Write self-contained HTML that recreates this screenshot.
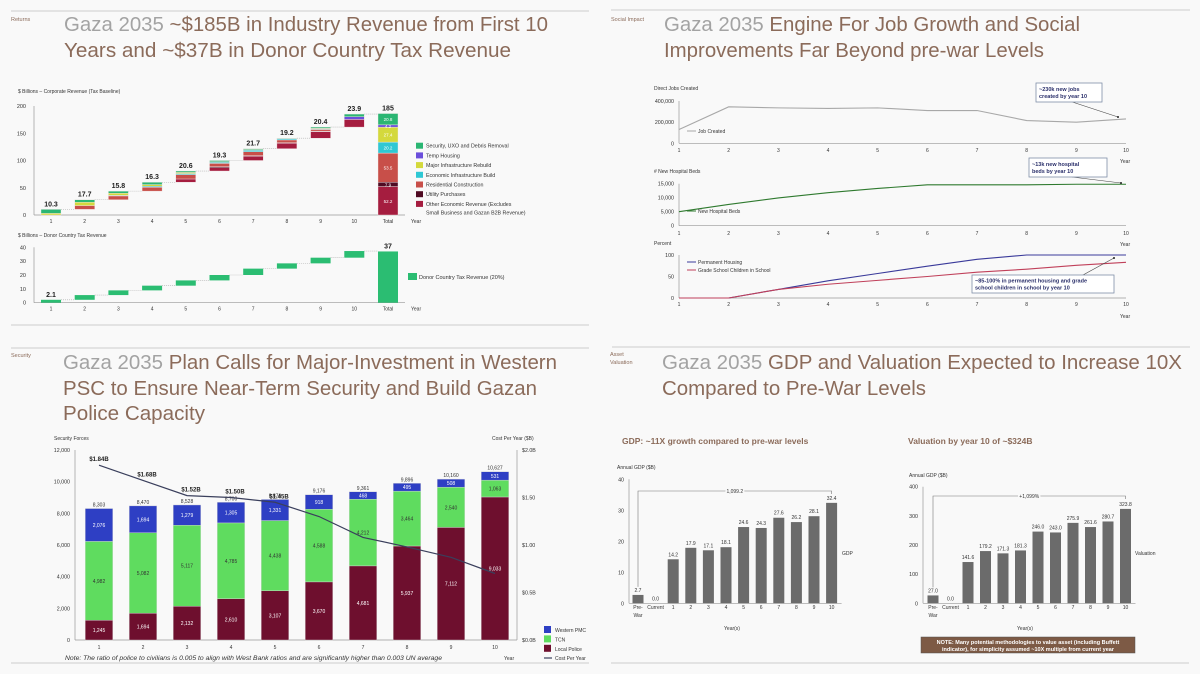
<!DOCTYPE html>
<html><head><meta charset="utf-8"><style>
html,body{margin:0;padding:0;background:#f9f9f9;}
svg{display:block;font-family:"Liberation Sans",sans-serif;}
</style></head><body>
<svg id="s" xmlns="http://www.w3.org/2000/svg" width="1200" height="674" viewBox="0 0 1200 674">
<rect width="1200" height="674" fill="#f9f9f9"/>
<g stroke="#d6d6d6" stroke-width="1.2">
<line x1="11" y1="11" x2="589" y2="11"/><line x1="611" y1="10" x2="1190" y2="10"/>
<line x1="11" y1="325" x2="589" y2="325"/><line x1="11" y1="348" x2="589" y2="348"/>
<line x1="612" y1="347" x2="1190" y2="347"/><line x1="11" y1="663" x2="589" y2="663"/><line x1="611" y1="663" x2="1189" y2="663"/>
</g>
<g font-size="5.5" fill="#8b6b5a">
<text x="11" y="21">Returns</text>
<text x="611" y="21">Social Impact</text>
<text x="11" y="357">Security</text>
<text x="610" y="356">Asset</text>
<text x="610" y="364">Valuation</text>
</g>
<g font-size="20" fill="#8b6b5a">
<text x="64" y="31" textLength="484" lengthAdjust="spacingAndGlyphs"><tspan fill="#a3a3a3">Gaza 2035</tspan> ~$185B in Industry Revenue from First 10</text>
<text x="64" y="57" textLength="447" lengthAdjust="spacingAndGlyphs">Years and ~$37B in Donor Country Tax Revenue</text>
<text x="664" y="31" textLength="416" lengthAdjust="spacingAndGlyphs"><tspan fill="#a3a3a3">Gaza 2035</tspan> Engine For Job Growth and Social</text>
<text x="664" y="57" textLength="380" lengthAdjust="spacingAndGlyphs">Improvements Far Beyond pre-war Levels</text>
<text x="63" y="369" textLength="494" lengthAdjust="spacingAndGlyphs"><tspan fill="#a3a3a3">Gaza 2035</tspan> Plan Calls for Major-Investment in Western</text>
<text x="63" y="395" textLength="474" lengthAdjust="spacingAndGlyphs">PSC to Ensure Near-Term Security and Build Gazan</text>
<text x="63" y="420" textLength="142" lengthAdjust="spacingAndGlyphs">Police Capacity</text>
<text x="662" y="369" textLength="520" lengthAdjust="spacingAndGlyphs"><tspan fill="#a3a3a3">Gaza 2035</tspan> GDP and Valuation Expected to Increase 10X</text>
<text x="662" y="395" textLength="264" lengthAdjust="spacingAndGlyphs">Compared to Pre-War Levels</text>
</g>
<g id="c1"></g>
<g id="c2"></g>
<g id="c3"></g>
<g id="c4"></g>
<g id="c5"></g>
<g id="c6"></g>
</svg>
<script>
// ---------- data ----------
const wfCategories = ["1","2","3","4","5","6","7","8","9","10"];
const wfYearTotals = [10.3,17.7,15.8,16.3,20.6,19.3,21.7,19.2,20.4,23.9];
// segments bottom->top: other, utility, residential, econ infra, major infra, temp housing, security
const wfSegments = [
 [0,0,0,0,3,0,7.3],[0,0,7,0,6,0,4.7],[0,0,7,1,4,0,3.8],[0,0,7,2,3,0,4.3],[6,0,8,2,2,0,2.6],
 [6,2,6,2,1,0,2.3],[8,1,7,3,1,0,1.7],[10,1,5,2,0,0,1.2],[12,1,3,1,1,0,2.4],[14,0,0,0,0,5,4.9]];
const wfTotalSegs = [52.2,7.9,53.5,20.2,27.4,4.2,20.8];
const wfTotalLabel = "185";
const wfLegend = ["Security, UXO and Debris Removal","Temp Housing","Major Infrastructure Rebuild","Economic Infrastructure Build","Residential Construction","Utility Purchases","Other Economic Revenue (Excludes"];
const wfTicks = [0,50,100,150,200];
const taxIncrements = [2.1,3.4,3.4,3.4,3.8,3.9,4.6,3.8,4.1,4.8];
const taxTotal = 37;
const taxTicks = [0,10,20,30,40];
const jobsValues = [130000,345000,335000,330000,335000,310000,310000,215000,200000,230000];
const jobsTicks = [0,200000,400000];
const bedsValues = [5000,7600,9900,11800,13300,14600,14600,14600,14800,14800];
const bedsTicks = [0,5000,10000,15000];
const housingValues = [0,0,20,40,57,74,90,100,100,100];
const schoolValues = [0,0,20,32,41,50,60,67,76,83];
const pctTicks = [0,50,100];
const secYears = ["1","2","3","4","5","6","7","8","9","10"];
const localPolice = [1245,1694,2132,2610,3107,3670,4681,5937,7112,9033];
const tcn = [4982,5082,5117,4785,4438,4588,4212,3464,2540,1063];
const westernPmc = [2076,1694,1279,1305,1331,918,468,495,508,531];
const secTotals = ["8,303","8,470","8,528","8,700","8,876","9,176","9,361","9,896","10,160","10,627"];
const costPerYear = [1.84,1.68,1.52,1.50,1.45,1.30,1.08,0.98,0.87,0.70];
const costLabels = ["$1.84B","$1.68B","$1.52B","$1.50B","$1.45B"];
const secLeftTicks = [0,2000,4000,6000,8000,10000,12000];
const secRightTicks = [0,0.5,1.0,1.5,2.0];
const secRightLabels = ["$0.0B","$0.5B","$1.00","$1.50","$2.0B"];
const gdpCats = ["Pre-","Current","1","2","3","4","5","6","7","8","9","10"];
const gdpValues = [2.7,0,14.2,17.9,17.1,18.1,24.6,24.3,27.6,26.2,28.1,32.4];
const gdpTicks = [0,10,20,30,40];
const valValues = [27.0,0,141.6,179.2,171.3,181.3,246.0,243.0,275.9,261.6,280.7,323.8];
const valTicks = [0,100,200,300,400];

const NS="http://www.w3.org/2000/svg";
function mk(tag,a,p){const e=document.createElementNS(NS,tag);for(const k in a)e.setAttribute(k,a[k]);p.appendChild(e);return e;}
function tx(p,x,y,s,a){const e=mk("text",Object.assign({x:x,y:y},a||{}),p);e.textContent=s;return e;}
const fmt=v=>v.toLocaleString("en-US");

// ---------- chart 1: corporate revenue waterfall ----------
(function(){
 const g=document.getElementById("c1");
 const segColors=["#a51d3f","#4f0a22","#c84f49","#2fc8d4","#d4d93c","#6b4fdb","#2bb673"];
 const y=v=>215-v*(109/200), x=i=>51+i*33.7, bw=20;
 const t=tx(g,18,93,"$ Billions – Corporate Revenue (Tax Baseline)",{"font-size":"5","fill":"#333"});
 
 
 const ax=mk("line",{x1:34,y1:y(200),x2:34,y2:y(0),stroke:"#999","stroke-width":0.7},g);
 
 
 const xa=mk("line",{x1:34,y1:y(0),x2:405,y2:y(0),stroke:"#999","stroke-width":0.7},g);
 
 
 wfTicks.forEach(v=>{const l=tx(g,26,y(v)+2,String(v),{"font-size":"5.5","fill":"#333","text-anchor":"end"});
  
  });
 let cum=0;
 wfCategories.forEach((c,i)=>{
  let base=cum;
  wfSegments[i].forEach((v,k)=>{ if(v<=0)return;
   const r=mk("rect",{x:x(i)-bw/2,y:y(base+v),width:bw,height:v*(109/200),fill:segColors[k],stroke:"#f3e8e8","stroke-width":0.4},g);
   
   
   base+=v;});
  cum+=wfYearTotals[i];
  const vl=tx(g,x(i),y(cum)-3,String(wfYearTotals[i]),{"font-size":"7","font-weight":"bold","fill":"#222","text-anchor":"middle"});
  
  
  const cn=mk("line",{x1:x(i)+bw/2,y1:y(cum),x2:x(i+1)-bw/2,y2:y(cum),stroke:"#aaa","stroke-width":0.6,"stroke-dasharray":"1,1"},g);
  
  
  const xl=tx(g,x(i),y(0)+8,c,{"font-size":"5","fill":"#333","text-anchor":"middle"});
  
  
 });
 let b=0;
 wfTotalSegs.forEach((v,k)=>{
  const r=mk("rect",{x:x(10)-bw/2,y:y(b+v),width:bw,height:v*(109/200),fill:segColors[k],stroke:"#f3e8e8","stroke-width":0.4},g);
  
  
  const l=tx(g,x(10),y(b+v/2)+2,String(v),{"font-size":"4.5","fill":"#fff","text-anchor":"middle"});
  
  
  b+=v;});
 const tl=tx(g,x(10),y(b)-3,wfTotalLabel,{"font-size":"7","font-weight":"bold","fill":"#222","text-anchor":"middle"});
 
 
 const tt=tx(g,x(10),y(0)+8,"Total",{"font-size":"5","fill":"#333","text-anchor":"middle"});
 
 
 const yr=tx(g,411,y(0)+8,"Year",{"font-size":"5","fill":"#333"});
 
 
 wfLegend.forEach((s,k)=>{const ly=146.7+k*9.7;
  const sq=mk("rect",{x:416,y:ly-4,width:7,height:6,fill:segColors[6-k]},g);
  
  
  const lt=tx(g,426,ly+1,s,{"font-size":"5.3","fill":"#333"});
  
  });
 const l2=tx(g,426,214.5,"Small Business and Gazan B2B Revenue)",{"font-size":"5.3","fill":"#333"});
 
 
})();

// ---------- chart 2: donor tax ----------
(function(){
 const g=document.getElementById("c2");
 const y=v=>302.7-v*(55.4/40), x=i=>51+i*33.7, bw=20, c="#2bbd72";
 const t=tx(g,18,237,"$ Billions – Donor Country Tax Revenue",{"font-size":"5","fill":"#333"});
 
 
 const ax=mk("line",{x1:34,y1:y(40),x2:34,y2:y(0),stroke:"#999","stroke-width":0.7},g);
 
 
 const xa=mk("line",{x1:34,y1:y(0),x2:405,y2:y(0),stroke:"#999","stroke-width":0.7},g);
 
 
 taxTicks.forEach(v=>{const l=tx(g,26,y(v)+2,String(v),{"font-size":"5.5","fill":"#333","text-anchor":"end"});
  
  });
 let cum=0;
 taxIncrements.forEach((v,i)=>{
  const r=mk("rect",{x:x(i)-bw/2,y:y(cum+v),width:bw,height:v*(55.4/40),fill:c},g);
  
  
  cum+=v;
  const cn=mk("line",{x1:x(i)+bw/2,y1:y(cum),x2:x(i+1)-bw/2,y2:y(cum),stroke:"#aaa","stroke-width":0.6,"stroke-dasharray":"1,1"},g);
  
  
  const xl=tx(g,x(i),y(0)+8,wfCategories[i],{"font-size":"5","fill":"#333","text-anchor":"middle"});
  
  
 });
 const fl=tx(g,x(0),y(taxIncrements[0])-3,String(taxIncrements[0]),{"font-size":"7","font-weight":"bold","fill":"#222","text-anchor":"middle"});
 
 
 const tb=mk("rect",{x:x(10)-bw/2,y:y(taxTotal),width:bw,height:taxTotal*(55.4/40),fill:c},g);
 
 
 const tl=tx(g,x(10),y(taxTotal)-3,String(taxTotal),{"font-size":"7","font-weight":"bold","fill":"#222","text-anchor":"middle"});
 
 
 const tt=tx(g,x(10),y(0)+8,"Total",{"font-size":"5","fill":"#333","text-anchor":"middle"});
 
 
 const yr=tx(g,411,y(0)+8,"Year",{"font-size":"5","fill":"#333"});
 
 
 const sq=mk("rect",{x:408,y:273,width:9,height:7,fill:c},g);
 
 
 const lt=tx(g,419,279,"Donor Country Tax Revenue (20%)",{"font-size":"5.5","fill":"#333"});
 
 
})();

// ---------- chart 3: social impact lines ----------
(function(){
 const g=document.getElementById("c3");
 const x=i=>679+i*(447/9);
 function panel(name,title,titleY,ticks,yf,fmtf,xlY,yearY){
  const t=tx(g,654,titleY,title,{"font-size":"5","fill":"#333"});
  
  
  const ax=mk("line",{x1:679,y1:yf(ticks[ticks.length-1]),x2:679,y2:yf(0),stroke:"#999","stroke-width":0.7},g);
  
  
  const xa=mk("line",{x1:679,y1:yf(0),x2:1126,y2:yf(0),stroke:"#999","stroke-width":0.7},g);
  
  
  ticks.forEach(v=>{const l=tx(g,674,yf(v)+2,fmtf(v),{"font-size":"5.3","fill":"#333","text-anchor":"end"});
   
   });
  for(let i=0;i<10;i++){const l=tx(g,x(i),xlY,String(i+1),{"font-size":"5","fill":"#333","text-anchor":"middle"});
   
   }
  const yr=tx(g,1120,yearY,"Year",{"font-size":"5","fill":"#333"});
  
  
 }
 function line(name,vals,yf,col){
  const p=mk("path",{d:vals.map((v,i)=>(i?"L":"M")+x(i)+","+yf(v)).join(""),fill:"none",stroke:col,"stroke-width":1.1},g);
  
  
 }
 function box(name,bx,by,w,h,l1,l2,ax2,ay2){
  const ar=mk("line",{x1:bx+w*0.55,y1:by+h,x2:ax2,y2:ay2,stroke:"#444","stroke-width":0.6},g);
  
  
  const hd=mk("circle",{cx:ax2,cy:ay2,r:1,fill:"#222"},g);
  
  
  const r=mk("rect",{x:bx,y:by,width:w,height:h,fill:"#fff",stroke:"#7f8fa8","stroke-width":0.8},g);
  
  
  const a=tx(g,bx+3,by+h/2-1.5,l1,{"font-size":"5.5","font-weight":"bold","fill":"#2a2f6a"});
  
  
  const b=tx(g,bx+3,by+h/2+5.5,l2,{"font-size":"5.5","font-weight":"bold","fill":"#2a2f6a"});
  
  
 }
 const yA=v=>143.3-v*(42.3/400000);
 panel("jobs","Direct Jobs Created",90,jobsTicks,yA,fmt,152,163);
 line("jobs-line",jobsValues,yA,"#a8a8a8");
 const la=mk("line",{x1:687,y1:131,x2:696,y2:131,stroke:"#a8a8a8","stroke-width":1},g);
 
 
 const lta=tx(g,698,133,"Job Created",{"font-size":"5","fill":"#333"});
 
 
 box("jobs-annotation",1036,83,66,19,"~230k new jobs","created by year 10",1118,117);

 const yB=v=>225.7-v*(42/15000);
 panel("beds","# New Hospital Beds",173,bedsTicks,yB,fmt,235,246);
 line("beds-line",bedsValues,yB,"#2f7a2f");
 const lb=mk("line",{x1:687,y1:211,x2:696,y2:211,stroke:"#2f7a2f","stroke-width":1},g);
 
 
 const ltb=tx(g,698,213,"New Hospital Beds",{"font-size":"5","fill":"#333"});
 
 
 box("beds-annotation",1029,158,78,19,"~13k new hospital","beds by year 10",1121,183);

 const yC=v=>298-v*0.43;
 panel("percent","Percent",245,pctTicks,yC,String,306,318);
 line("housing-line",housingValues,yC,"#3a3a9a");
 line("school-line",schoolValues,yC,"#c0405a");
 const lc1=mk("line",{x1:687,y1:262,x2:696,y2:262,stroke:"#3a3a9a","stroke-width":1},g);
 
 
 const tc1=tx(g,698,264,"Permanent Housing",{"font-size":"5","fill":"#333"});
 
 
 const lc2=mk("line",{x1:687,y1:270,x2:696,y2:270,stroke:"#c0405a","stroke-width":1},g);
 
 
 const tc2=tx(g,698,272,"Grade School Children in School",{"font-size":"5","fill":"#333"});
 
 
 box("percent-annotation",972,275,142,18,"~85-100% in permanent housing and grade","school children in school by year 10",1114,258);
})();

// ---------- chart 4: security forces ----------
(function(){
 const g=document.getElementById("c4");
 const yL=v=>640-v*(190/12000), yR=v=>640-v*95, x=i=>99+i*44, bw=27.6;
 const cols=["#6e0f2e","#5fdc5f","#2e3fc4"];
 const t1=tx(g,54,440,"Security Forces",{"font-size":"5","fill":"#333"});
 
 
 const t2=tx(g,492,440,"Cost Per Year ($B)",{"font-size":"5","fill":"#333"});
 
 
 const a1=mk("line",{x1:75,y1:450,x2:75,y2:640,stroke:"#999","stroke-width":0.7},g);
 
 
 const a2=mk("line",{x1:517,y1:450,x2:517,y2:640,stroke:"#999","stroke-width":0.7},g);
 
 
 const a3=mk("line",{x1:75,y1:640,x2:517,y2:640,stroke:"#999","stroke-width":0.7},g);
 
 
 secLeftTicks.forEach(v=>{const l=tx(g,70,yL(v)+2,fmt(v),{"font-size":"5.3","fill":"#333","text-anchor":"end"});
  
  });
 secRightTicks.forEach((v,k)=>{const l=tx(g,522,yR(v)+2,secRightLabels[k],{"font-size":"5.3","fill":"#333"});
  
  });
 secYears.forEach((c,i)=>{
  const vals=[localPolice[i],tcn[i],westernPmc[i]]; let b=0;
  vals.forEach((v,k)=>{
   const r=mk("rect",{x:x(i)-bw/2,y:yL(b+v),width:bw,height:v*(190/12000),fill:cols[k],stroke:"#d8d8d8","stroke-width":0.4},g);
   
   
   const l=tx(g,x(i),yL(b+v/2)+2,fmt(v),{"font-size":"5","fill":k==1?"#333":"#fff","text-anchor":"middle"});
   
   
   b+=v;});
  const tl=tx(g,x(i),yL(b)-2,secTotals[i],{"font-size":"5","fill":"#333","text-anchor":"middle"});
  
  
  const xl=tx(g,x(i),649,c,{"font-size":"5","fill":"#333","text-anchor":"middle"});
  
  
 });
 const p=mk("path",{d:costPerYear.map((v,i)=>(i?"L":"M")+x(i)+","+yR(v)).join(""),fill:"none",stroke:"#3a3f5c","stroke-width":1.2},g);
 
 
 costLabels.forEach((s,i)=>{const l=tx(g,x(i)+(i==0?0:4),yR(costPerYear[i])-4,s,{"font-size":"6","font-weight":"bold","fill":"#222","text-anchor":"middle"});
  
  });
 const lg=[["Western PMC",cols[2]],["TCN",cols[1]],["Local Police",cols[0]]];
 lg.forEach((e,k)=>{const ly=631+k*9.4;
  const sq=mk("rect",{x:544,y:ly-5,width:7,height:7,fill:e[1]},g);
  
  
  const lt=tx(g,555,ly+1,e[0],{"font-size":"5","fill":"#333"});
  
  });
 const ll=mk("line",{x1:544,y1:658,x2:552,y2:658,stroke:"#3a3f5c","stroke-width":1.2},g);
 
 
 const lt=tx(g,555,660,"Cost Per Year",{"font-size":"5","fill":"#333"});
 
 
 const yr=tx(g,504,660,"Year",{"font-size":"5","fill":"#333"});
 
 
 const nt=tx(g,65,660,"Note: The ratio of police to civilians is 0.005 to align with West Bank ratios and are significantly higher than 0.003 UN average",{"font-size":"6.5","font-style":"italic","fill":"#333",textLength:377,lengthAdjust:"spacingAndGlyphs"});
 
 
})();

// ---------- charts 5/6: GDP and valuation ----------
function gdpChart(id,name,vals,ticks,x0,axX,step,yTop,maxV,sub,subX,ytitleX,ytitleY,bracketY,bracketLbl,sideLbl,sideX,yearX){
 const g=document.getElementById(id);
 const y0=603.3, y=v=>y0-v*((y0-yTop)/maxV), x=i=>x0+i*step, bw=11;
 const s=tx(g,subX,444,sub,{"font-size":"8.5","font-weight":"bold","fill":"#8b6b5a"});
 
 
 const t=tx(g,ytitleX,ytitleY,"Annual GDP ($B)",{"font-size":"5","fill":"#333"});
 
 
 const ax=mk("line",{x1:axX,y1:yTop,x2:axX,y2:y0,stroke:"#999","stroke-width":0.7},g);
 
 
 const xa=mk("line",{x1:axX,y1:y0,x2:x(11)+10,y2:y0,stroke:"#999","stroke-width":0.7},g);
 
 
 ticks.forEach(v=>{const l=tx(g,axX-5,y(v)+2,String(v),{"font-size":"5.3","fill":"#333","text-anchor":"end"});
  
  });
 vals.forEach((v,i)=>{
  const r=mk("rect",{x:x(i)-bw/2,y:y(v),width:bw,height:v*((y0-yTop)/maxV),fill:"#6b6b6b"},g);
  
  
  const l=tx(g,x(i),y(v)-3,v.toFixed(1),{"font-size":"5","fill":"#333","text-anchor":"middle"});
  
  
  const xl=tx(g,x(i),609,gdpCats[i],{"font-size":"5","fill":"#333","text-anchor":"middle"});
  
  
 });
 const w=tx(g,x(0),617,"War",{"font-size":"5","fill":"#333","text-anchor":"middle"});
 
 
 const br=mk("path",{d:"M"+x(0)+","+(y(vals[0])-8)+"V"+bracketY+"H"+x(11)+"V"+(bracketY+3),fill:"none",stroke:"#777","stroke-width":0.6},g);
 
 
 const bl=tx(g,(x(0)+x(11))/2,bracketY+2,bracketLbl,{"font-size":"5","fill":"#333","text-anchor":"middle",stroke:"#f9f9f9","stroke-width":3,"paint-order":"stroke"});
 
 
 const sl=tx(g,sideX,555,sideLbl,{"font-size":"5","fill":"#333"});
 
 
 const yr=tx(g,yearX,630,"Year(s)",{"font-size":"5","fill":"#333","text-anchor":"middle"});
 
 
}
gdpChart("c5","gdp",gdpValues,gdpTicks,638,629,17.6,479.3,40,"GDP: ~11X growth compared to pre-war levels",622,617,469,491,"1,099.2","GDP",842,732);
gdpChart("c6","valuation",valValues,valTicks,933,923,17.5,486.7,400,"Valuation by year 10 of ~$324B",908,909,477,496,"+1,099%","Valuation",1135,1025);
(function(){
 const g=document.getElementById("c6");
 const r=mk("rect",{x:921,y:637,width:214,height:16,fill:"#7d5a45",stroke:"#555","stroke-width":0.5},g);
 
 
 const a=tx(g,1028,644,"NOTE: Many potential methodologies to value asset (including Buffett",{"font-size":"5.5","font-weight":"bold","fill":"#fff","text-anchor":"middle"});
 
 
 const b=tx(g,1028,651,"indicator), for simplicity assumed ~10X multiple from current year",{"font-size":"5.5","font-weight":"bold","fill":"#fff","text-anchor":"middle"});
 
 
})();
</script>
</body></html>
